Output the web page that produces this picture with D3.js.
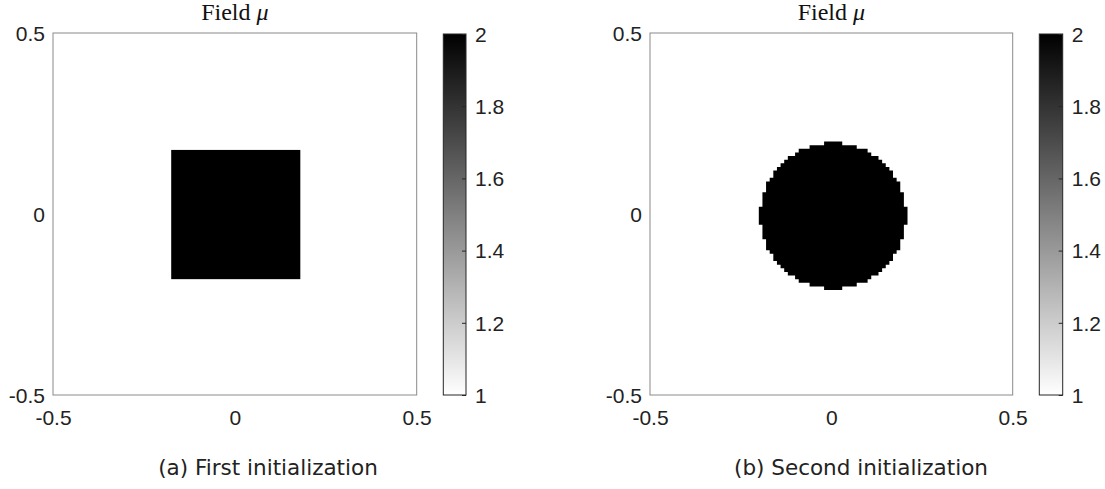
<!DOCTYPE html>
<html><head><meta charset="utf-8">
<script src="https://cdn.jsdelivr.net/npm/d3@7"></script>
<style>body{margin:0;background:#fff}</style></head>
<body>
<svg id="c" width="1105" height="489"></svg>
<script>
// ---- data ----
const axisTicks = [-0.5, 0, 0.5];
const axisTickLabels = ["-0.5", "0", "0.5"];
const colorTicks = [1, 1.2, 1.4, 1.6, 1.8, 2];
const colorTickLabels = ["1", "1.2", "1.4", "1.6", "1.8", "2"];
const fieldRange = [1, 2];
const inclusionValue = 2;
const squareX = [-0.175, 0.18];
const squareY = [-0.18, 0.177];
const cellSize = 0.01;
const circleCenter = [0.005, -0.005];
// full width (in cells) of the disc for row k = 0 (centre) .. 20 (top); mirrored below
const circleRowWidths = [41,41,41,39,39,39,39,37,37,37,35,33,33,31,29,27,25,21,19,13,5];
const titleText = "Field";
const titleSymbol = "μ";
const captions = ["(a) First initialization", "(b) Second initialization"];

// ---- layout ----
const svg = d3.select("#c");
const color = d3.scaleLinear().domain(fieldRange).range(["#ffffff", "#000000"]);
const panels = [
  {ax: [53, 416.7], cb: [443.3, 466], cap: 268, shape: "square"},
  {ax: [650, 1012.7], cb: [1039.3, 1062.7], cap: 861, shape: "circle"}
];
const plotTop = 33, plotBottom = 395;
const sans = "'Liberation Sans', Arial, Helvetica, sans-serif";

const defs = svg.append("defs");
const grad = defs.append("linearGradient").attr("id", "cbg")
  .attr("x1", 0).attr("y1", 1).attr("x2", 0).attr("y2", 0);
d3.range(0, 1.0001, 0.1).forEach(t => {
  const v = fieldRange[0] + t * (fieldRange[1] - fieldRange[0]);
  grad.append("stop").attr("offset", t).attr("stop-color", color(v));
});

panels.forEach((p, i) => {
  const x = d3.scaleLinear().domain([-0.5, 0.5]).range(p.ax);
  const y = d3.scaleLinear().domain([-0.5, 0.5]).range([plotBottom, plotTop]);
  const g = svg.append("g");

  g.append("rect").attr("x", p.ax[0]).attr("y", plotTop)
    .attr("width", p.ax[1] - p.ax[0]).attr("height", plotBottom - plotTop)
    .attr("fill", color(fieldRange[0]));

  if (p.shape === "square") {
    g.append("rect")
      .attr("x", x(squareX[0])).attr("y", y(squareY[1]))
      .attr("width", x(squareX[1]) - x(squareX[0]))
      .attr("height", y(squareY[0]) - y(squareY[1]))
      .attr("fill", color(inclusionValue));
  } else {
    const path = d3.path();
    const n = circleRowWidths.length - 1;
    for (let k = -n; k <= n; k++) {
      const w = circleRowWidths[Math.abs(k)] * cellSize;
      const x0 = x(circleCenter[0] - w / 2), x1 = x(circleCenter[0] + w / 2);
      const y0 = y(circleCenter[1] + k * cellSize + cellSize / 2);
      const y1 = y(circleCenter[1] + k * cellSize - cellSize / 2);
      path.rect(x0, y0, x1 - x0, y1 - y0 + 0.01);
    }
    g.append("path").attr("d", path.toString()).attr("fill", color(inclusionValue));
  }

  // axes box
  g.append("rect").attr("x", p.ax[0]).attr("y", plotTop)
    .attr("width", p.ax[1] - p.ax[0]).attr("height", plotBottom - plotTop)
    .attr("fill", "none").attr("stroke", "#8a8a8a").attr("stroke-width", 1);

  const xAxis = d3.axisBottom(x).tickValues(axisTicks).tickSize(0).tickPadding(0)
    .tickFormat((d, j) => axisTickLabels[j]);
  const gx = g.append("g").attr("transform", `translate(0,${plotBottom})`).call(xAxis);
  gx.select(".domain").remove();
  gx.selectAll("text").attr("dy", null).attr("y", 30)
    .style("font-family", sans).style("font-size", "21px").attr("fill", "#222");

  const yAxis = d3.axisLeft(y).tickValues(axisTicks).tickSize(0).tickPadding(8)
    .tickFormat((d, j) => axisTickLabels[j]);
  const gy = g.append("g").attr("transform", `translate(${p.ax[0]},0)`).call(yAxis);
  gy.select(".domain").remove();
  gy.selectAll("text").attr("dy", "0.35em")
    .style("font-family", sans).style("font-size", "21px").attr("fill", "#222");

  // title
  const t = g.append("text").attr("x", (p.ax[0] + p.ax[1]) / 2).attr("y", 20)
    .attr("text-anchor", "middle")
    .style("font-family", "'Liberation Serif', 'Times New Roman', serif").style("font-size", "24px")
    .attr("fill", "#111");
  t.append("tspan").text(titleText + " ");
  t.append("tspan").style("font-style", "italic").text(titleSymbol);

  // colorbar
  const cy = d3.scaleLinear().domain(fieldRange).range([plotBottom, plotTop + 1]);
  g.append("rect").attr("x", p.cb[0]).attr("y", cy(fieldRange[1]))
    .attr("width", p.cb[1] - p.cb[0]).attr("height", cy(fieldRange[0]) - cy(fieldRange[1]))
    .attr("fill", "url(#cbg)").attr("stroke", "#262626").attr("stroke-width", 1);
  const cAxis = d3.axisRight(cy).tickValues(colorTicks).tickSize(-4).tickPadding(9)
    .tickFormat((d, j) => colorTickLabels[j]);
  const gc = g.append("g").attr("transform", `translate(${p.cb[1]},0)`).call(cAxis);
  gc.select(".domain").remove();
  gc.selectAll(".tick line").attr("stroke", "#262626");
  gc.selectAll("text").attr("dy", "0.35em")
    .style("font-family", sans).style("font-size", "21px").attr("fill", "#222");

  // caption
  svg.append("text").attr("x", p.cap).attr("y", 475).attr("text-anchor", "middle")
    .style("font-family", "'DejaVu Sans', sans-serif").style("font-size", "21.5px").attr("fill", "#222")
    .text(captions[i]);
});
</script>
</body></html>
